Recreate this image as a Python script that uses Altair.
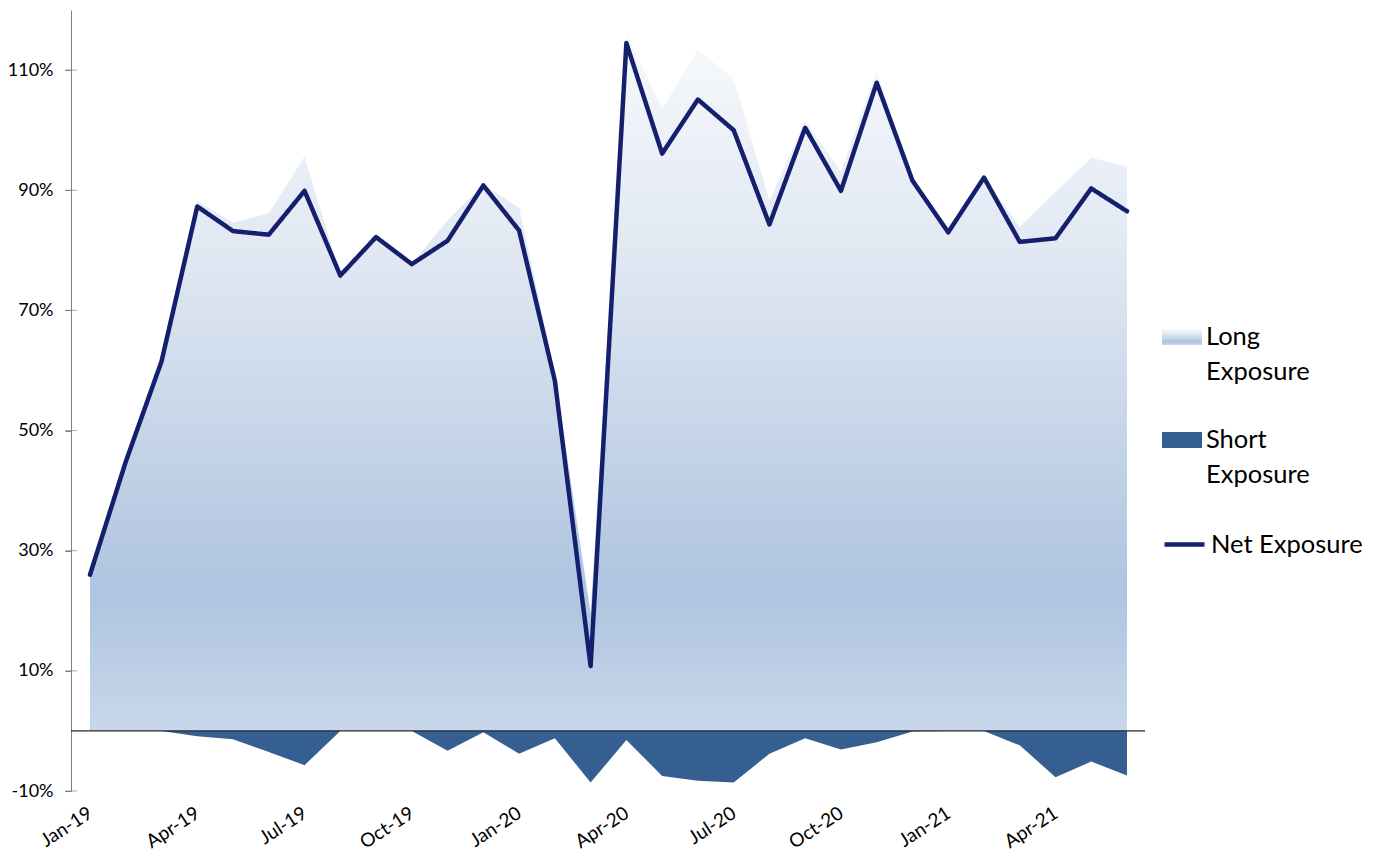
import altair as alt
import pandas as pd

# ---- data ----
months = ["Jan-19", "Feb-19", "Mar-19", "Apr-19", "May-19", "Jun-19", "Jul-19", "Aug-19",
          "Sep-19", "Oct-19", "Nov-19", "Dec-19", "Jan-20", "Feb-20", "Mar-20", "Apr-20",
          "May-20", "Jun-20", "Jul-20", "Aug-20", "Sep-20", "Oct-20", "Nov-20", "Dec-20",
          "Jan-21", "Feb-21", "Mar-21", "Apr-21", "May-21", "Jun-21"]

long_exposure = [26.0, 44.8, 61.5, 88.2, 84.6, 86.2, 95.6, 75.8, 82.2, 77.7, 85.0, 91.0,
                 87.1, 59.5, 19.5, 116.0, 103.6, 113.4, 108.6, 88.2, 101.6, 93.1, 109.9, 91.6,
                 83.0, 92.1, 83.9, 89.7, 95.4, 94.0]

short_exposure = [0.0, 0.0, 0.0, -0.9, -1.4, -3.5, -5.7, 0.0, 0.0, 0.0, -3.3, -0.2,
                  -3.8, -1.2, -8.6, -1.5, -7.5, -8.3, -8.6, -3.8, -1.2, -3.1, -1.9, -0.1,
                  0.0, 0.0, -2.4, -7.7, -5.1, -7.4]

net_exposure = [26.0, 44.8, 61.5, 87.3, 83.2, 82.6, 89.9, 75.8, 82.2, 77.7, 81.6, 90.8,
                83.3, 58.3, 10.8, 114.5, 96.1, 105.1, 100.0, 84.3, 100.4, 89.9, 107.9, 91.6,
                83.0, 92.1, 81.4, 82.0, 90.3, 86.5]

series_names = ["Long Exposure", "Short Exposure", "Net Exposure"]
y_tick_values = [-10, 10, 30, 50, 70, 90, 110]
x_tick_index = [0, 3, 6, 9, 12, 15, 18, 21, 24, 27]

df = pd.DataFrame({
    "idx": list(range(len(months))),
    "month": months,
    "long": long_exposure,
    "short": short_exposure,
    "net": net_exposure,
})

FONT = "Lato"
W, H = 1074, 781
LONG_GRAD = alt.LinearGradient(
    gradient="linear", x1=0, y1=0, x2=0, y2=1,
    stops=[
        alt.GradientStop(offset=0.0, color="#f7f9fc"),
        alt.GradientStop(offset=0.3, color="#e2e9f3"),
        alt.GradientStop(offset=0.8, color="#afc4e0"),
        alt.GradientStop(offset=1.0, color="#c8d7eb"),
    ],
)
SHORT_COLOR = "#365f91"
NET_COLOR = "#14206e"

label_array = "[" + ",".join("'" + m + "'" for m in months) + "]"

x_enc = alt.X(
    "idx:Q",
    scale=alt.Scale(domain=[-0.531, 29.503], nice=False, zero=False),
    axis=alt.Axis(
        values=x_tick_index, labelExpr=label_array + "[datum.value]",
        labelAngle=-33, labelAlign="right", labelBaseline="middle", labelPadding=20,
        labelOverlap=False, labelFlush=False, domain=False, ticks=False, grid=False,
        title=None, labelFont=FONT, labelFontSize=19, labelColor="#000000",
    ),
)
y_scale = alt.Scale(domain=[-10, 120], nice=False, zero=False)
y_axis = alt.Axis(
    values=y_tick_values, labelExpr="datum.value + '%'", grid=False, title=None,
    domainColor="#7f7f7f", tickColor="#7f7f7f", tickSize=6, labelPadding=12,
    labelFont=FONT, labelFontSize=18, labelColor="#000000",
)

sym_rect = "M-1,-0.4H1V0.4H-1Z"
legend_common = dict(
    orient="none", title=None, padding=0, labelFont=FONT, labelFontSize=25.5,
    labelColor="#000000", labelBaseline="middle",
    labelLimit=400, symbolSize=1600, labelOffset=4,
)

long_layer = alt.Chart(df).transform_calculate(s="'" + series_names[0] + "'").mark_area(
    color=LONG_GRAD, line=False
).encode(
    x=x_enc,
    y=alt.Y("long:Q", scale=y_scale, axis=y_axis),
    opacity=alt.Opacity(
        "s:N", scale=alt.Scale(domain=[series_names[0]], range=[1]),
        legend=alt.Legend(
            legendX=1091, legendY=307, symbolType=sym_rect,
            labelExpr="split(datum.label, ' ')",
            symbolFillColor={"expr": "{gradient: 'linear', x1: 0, y1: 0, x2: 0, y2: 1, stops: [{offset: 0, color: '#f0f4fa'}, {offset: 1, color: '#aec3df'}]}"},
            symbolStrokeWidth=0, **legend_common,
        ),
    ),
)

short_layer = alt.Chart(df).transform_calculate(s="'" + series_names[1] + "'").mark_area().encode(
    x=x_enc,
    y=alt.Y("short:Q", scale=y_scale),
    color=alt.Color(
        "s:N", scale=alt.Scale(domain=[series_names[1]], range=[SHORT_COLOR]),
        legend=alt.Legend(
            legendX=1091, legendY=410, symbolType=sym_rect, symbolStrokeWidth=0,
            labelExpr="split(datum.label, ' ')",
            **legend_common,
        ),
    ),
)

zero_rule = alt.Chart(alt.Data(values=[{"v": 0}])).mark_rule(color="#262626", strokeWidth=1.3).encode(
    y=alt.Y("v:Q", scale=y_scale),
    x=alt.value(0), x2=alt.value(W),
)

tick_marks = alt.Chart(pd.DataFrame({"t": y_tick_values})).mark_tick(
    orient="horizontal", size=12, thickness=1, color="#7f7f7f"
).encode(
    y=alt.Y("t:Q", scale=y_scale),
    x=alt.value(0),
)

net_layer = alt.Chart(df).transform_calculate(s="'" + series_names[2] + "'").mark_line(
    color=NET_COLOR, strokeWidth=4.5, strokeJoin="round", strokeCap="round"
).encode(
    x=x_enc,
    y=alt.Y("net:Q", scale=y_scale),
    strokeDash=alt.StrokeDash(
        "s:N", scale=alt.Scale(domain=[series_names[2]], range=[[1, 0]]),
        legend=alt.Legend(
            legendX=1091, legendY=512, symbolType="stroke", symbolStrokeColor=NET_COLOR,
            symbolStrokeWidth=4.5, **legend_common,
        ),
    ),
)

chart = alt.layer(long_layer, short_layer, zero_rule, tick_marks, net_layer).resolve_legend(
    opacity="independent", color="independent", strokeDash="independent"
).properties(
    width=W, height=H,
    autosize=alt.AutoSizeParams(type="none"),
    padding={"left": 63, "top": 2, "right": 220, "bottom": 65},
).configure(
    style={"guide-label": {"lineHeight": 35}}
).configure_view(stroke=None)

chart.save("out.html", embed_options={"renderer": "svg", "actions": False})
